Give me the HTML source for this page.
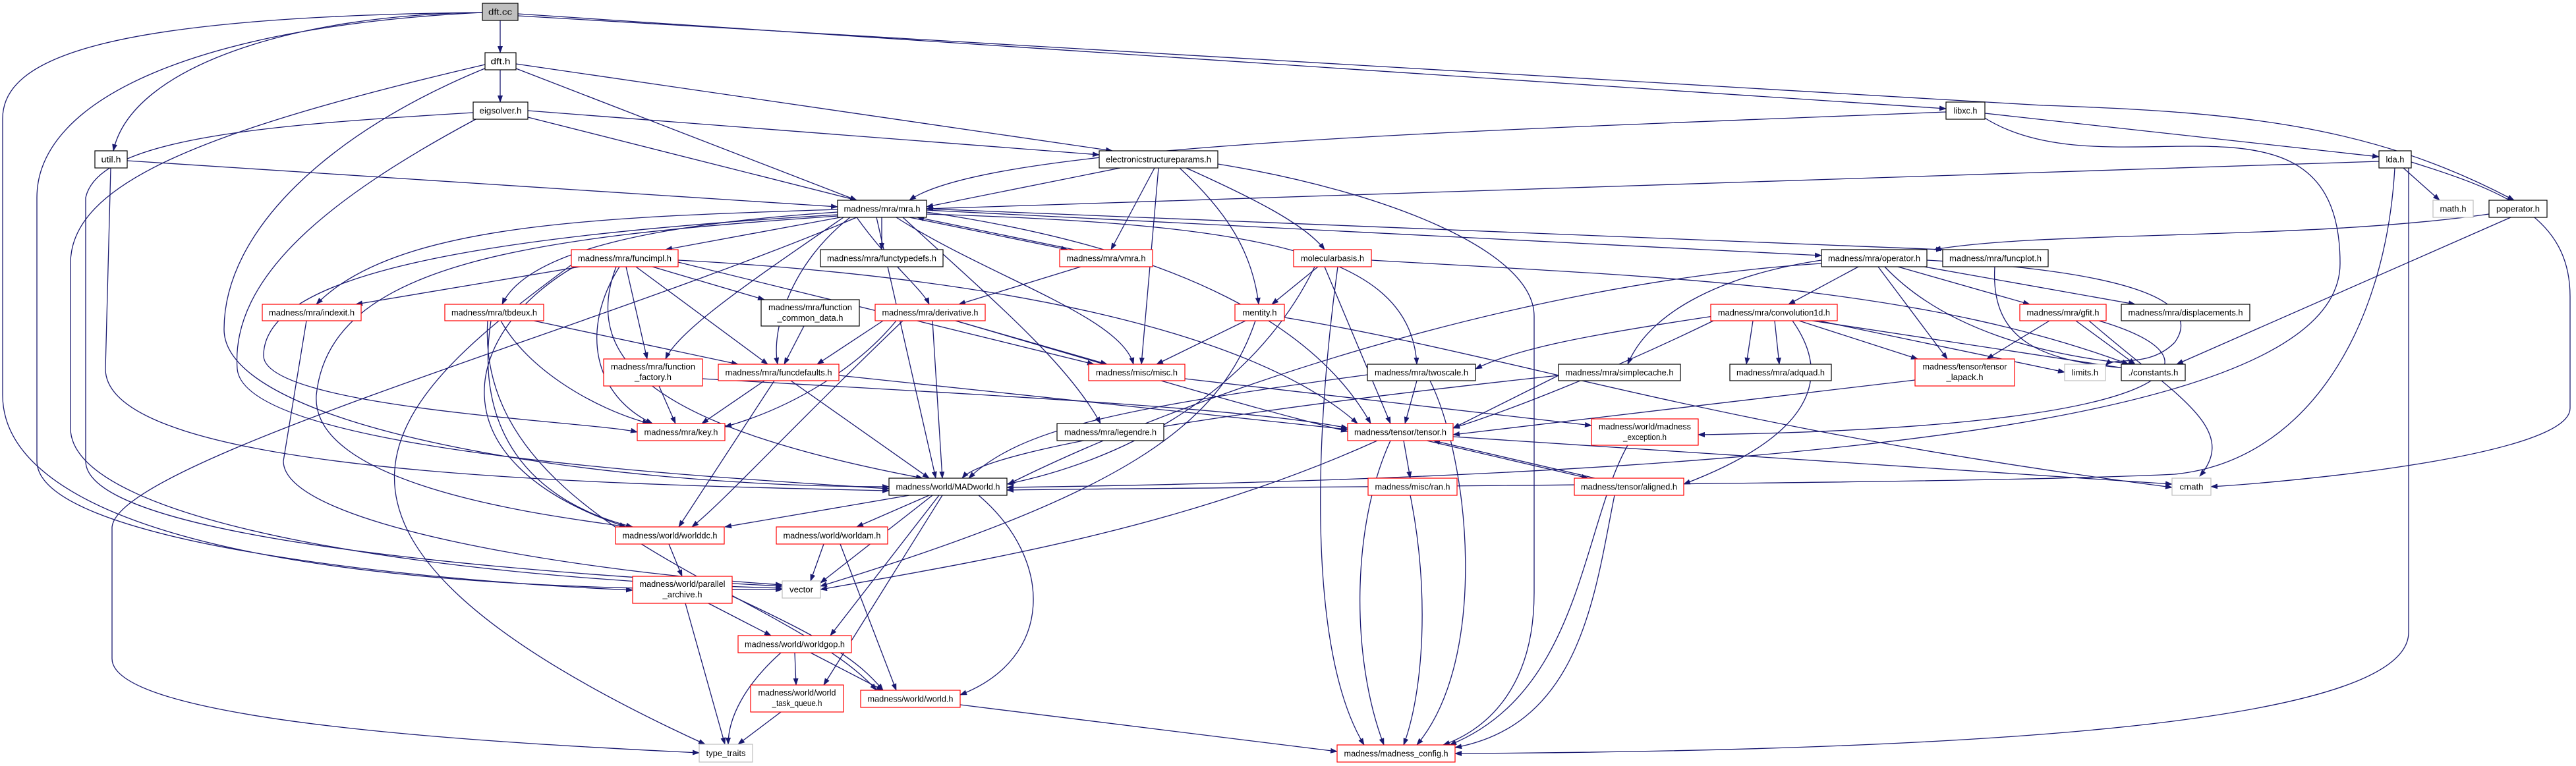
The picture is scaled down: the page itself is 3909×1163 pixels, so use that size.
<!DOCTYPE html>
<html><head><meta charset="utf-8"><style>
html,body{margin:0;padding:0;background:#fff;}
svg{display:block}
text{font-family:"Liberation Sans",sans-serif;font-size:13px;fill:#000}
.e{fill:none;stroke:#191970;stroke-width:1.3}
.b{fill:#fff;stroke:#000;stroke-width:1.2}
.r{fill:#fff;stroke:#ff0000;stroke-width:1.2}
.g{fill:#fff;stroke:#bfbfbf;stroke-width:1.2}
</style></head><body>
<svg width="3909" height="1163" viewBox="0 0 3909 1163" xmlns="http://www.w3.org/2000/svg">
<defs><marker id="a" markerWidth="11" markerHeight="8" refX="10" refY="4" orient="auto" markerUnits="userSpaceOnUse"><path d="M0,0 L11,4 L0,8 z" fill="#191970"/></marker></defs>
<g marker-end="url(#a)">
<path class="e" d="M759 31 L759 80"/>
<path class="e" d="M732 19 C450 22 200 100 172 229"/>
<path class="e" d="M732 19 C150 25 4 90 4 180 L4 600 C4 760 300 900 1187 895"/>
<path class="e" d="M732 19 C300 40 56 150 56 300 L56 700 C56 820 600 880 960 896"/>
<path class="e" d="M786 21 L2953 165"/>
<path class="e" d="M786 24 L3100 160 C3400 170 3600 190 3815 304"/>
<path class="e" d="M759 106 L759 155"/>
<path class="e" d="M783 104 L1300 304"/>
<path class="e" d="M783 97 L1688 229"/>
<path class="e" d="M738 103 C500 200 340 350 340 500 C340 650 900 739 1349 739"/>
<path class="e" d="M736 98 C300 200 107 280 107 400 L107 650 C107 800 700 880 1187 893"/>
<path class="e" d="M801 178 L1300 304"/>
<path class="e" d="M801 168 L1668 235"/>
<path class="e" d="M722 181 C500 300 350 420 360 560 C370 680 1000 720 1349 742"/>
<path class="e" d="M718 171 C400 190 150 210 130 300 L130 700 C130 820 800 870 1187 890"/>
<path class="e" d="M193 244 L1271 314"/>
<path class="e" d="M168 255 L160 560 C160 720 900 735 1349 745"/>
<path class="e" d="M1700 255 L1406 314"/>
<path class="e" d="M1752 255 L1686 379"/>
<path class="e" d="M1758 255 L1732 553"/>
<path class="e" d="M1790 255 C1860 320 1900 380 1910 462"/>
<path class="e" d="M1800 255 C1900 300 1980 340 2010 379"/>
<path class="e" d="M1848 249 C2100 290 2328 380 2328 480 L2328 900 C2328 1050 2250 1110 2190 1131"/>
<path class="e" d="M3012 172 L3610 238"/>
<path class="e" d="M2953 170 C2200 200 1500 220 1380 304"/>
<path class="e" d="M3010 178 C3200 300 3551 100 3551 400 C3551 600 3000 720 1528 740"/>
<path class="e" d="M3647 255 L3702 304"/>
<path class="e" d="M3659 246 C3800 290 3900 330 3900 450 L3900 620 C3900 690 3500 730 3355 739"/>
<path class="e" d="M3634 255 C3620 500 3500 700 3300 720 C3000 735 2000 738 1528 744"/>
<path class="e" d="M3655 255 L3655 960 C3655 1100 3000 1140 2208 1144"/>
<path class="e" d="M3610 245 L1406 317"/>
<path class="e" d="M3777 325 C3500 365 3100 350 2935 379"/>
<path class="e" d="M3810 330 L3303 553"/>
<path class="e" d="M1338 330 L1338 379"/>
<path class="e" d="M1380 330 L1620 379"/>
<path class="e" d="M1630 379 L1392 330"/>
<path class="e" d="M1275 330 L1010 379"/>
<path class="e" d="M1271 318 C900 330 600 340 480 462"/>
<path class="e" d="M1271 322 C1000 340 800 380 762 462"/>
<path class="e" d="M1300 330 C1350 400 1400 440 1410 462"/>
<path class="e" d="M1290 330 C1200 400 1170 500 1180 553"/>
<path class="e" d="M1280 330 C1150 420 1030 500 1010 545"/>
<path class="e" d="M1271 326 C700 360 400 420 400 540 C400 620 900 640 967 656"/>
<path class="e" d="M1330 330 L1420 726"/>
<path class="e" d="M1360 330 C1500 420 1700 480 1720 553"/>
<path class="e" d="M1406 322 C1800 380 2000 500 2080 643"/>
<path class="e" d="M1406 325 C1900 340 2140 380 2150 553"/>
<path class="e" d="M1370 330 C1500 450 1620 550 1670 643"/>
<path class="e" d="M1406 319 L2764 388"/>
<path class="e" d="M1406 317 L2948 379"/>
<path class="e" d="M1271 328 C800 360 500 400 480 600 C470 750 900 790 950 800"/>
<path class="e" d="M1300 330 C900 500 180 700 170 800 L170 1000 C170 1100 800 1130 1061 1143"/>
<path class="e" d="M990 405 L1160 455"/>
<path class="e" d="M880 405 L540 462"/>
<path class="e" d="M950 405 L982 545"/>
<path class="e" d="M965 405 L1165 553"/>
<path class="e" d="M940 405 C880 500 900 600 990 643"/>
<path class="e" d="M935 405 C880 550 1000 650 1400 726"/>
<path class="e" d="M1029 395 C1500 420 1900 500 2060 643"/>
<path class="e" d="M1029 398 L1660 553"/>
<path class="e" d="M880 400 C700 500 650 700 950 800"/>
<path class="e" d="M870 400 C600 600 350 800 1070 1130"/>
<path class="e" d="M810 487 L1120 553"/>
<path class="e" d="M760 487 C800 560 900 620 985 643"/>
<path class="e" d="M745 487 C720 650 800 760 960 800"/>
<path class="e" d="M740 487 C720 800 1200 900 1330 1048"/>
<path class="e" d="M465 487 L430 700 C430 800 900 870 1187 888"/>
<path class="e" d="M1220 495 L1190 553"/>
<path class="e" d="M1000 586 L1025 643"/>
<path class="e" d="M1066 575 C1500 600 1900 620 2045 650"/>
<path class="e" d="M1160 578 L1065 643"/>
<path class="e" d="M1175 578 L1030 800"/>
<path class="e" d="M1200 578 L1410 726"/>
<path class="e" d="M1273 570 L2045 652"/>
<path class="e" d="M1360 487 C1300 560 1200 620 1100 648"/>
<path class="e" d="M1370 487 C1200 650 1100 760 1050 800"/>
<path class="e" d="M1415 487 L1430 726"/>
<path class="e" d="M1450 487 C1700 560 1900 620 2045 655"/>
<path class="e" d="M1450 487 L1680 553"/>
<path class="e" d="M1340 487 L1240 553"/>
<path class="e" d="M1640 405 L1455 462"/>
<path class="e" d="M2000 405 L1930 462"/>
<path class="e" d="M2010 405 L2110 643"/>
<path class="e" d="M2030 405 C1990 700 1990 1000 2070 1131"/>
<path class="e" d="M1995 405 C1900 600 1700 700 1528 735"/>
<path class="e" d="M2081 395 C2500 420 2900 430 3230 553"/>
<path class="e" d="M1890 487 L1755 553"/>
<path class="e" d="M1949 482 C2300 540 2600 650 3296 740"/>
<path class="e" d="M1905 487 C1850 650 1700 750 1245 890"/>
<path class="e" d="M1798 575 L2415 646"/>
<path class="e" d="M2150 578 L2132 643"/>
<path class="e" d="M2075 569 C1700 620 1550 650 1470 726"/>
<path class="e" d="M2170 578 C2230 700 2260 1000 2150 1131"/>
<path class="e" d="M2365 570 L2205 650"/>
<path class="e" d="M2365 570 C1900 620 1500 680 1460 726"/>
<path class="e" d="M2130 669 L2140 726"/>
<path class="e" d="M2165 669 L2410 726"/>
<path class="e" d="M2420 726 L2175 669"/>
<path class="e" d="M2110 669 C2050 800 2050 1000 2100 1131"/>
<path class="e" d="M2090 669 C1800 800 1500 850 1245 895"/>
<path class="e" d="M2205 663 L3296 735"/>
<path class="e" d="M2140 752 C2170 900 2160 1050 2130 1131"/>
<path class="e" d="M2450 752 C2420 900 2400 1100 2208 1135"/>
<path class="e" d="M2470 676 C2400 800 2400 1050 2200 1131"/>
<path class="e" d="M1380 752 L1100 800"/>
<path class="e" d="M1410 752 L1300 800"/>
<path class="e" d="M1415 752 L1245 885"/>
<path class="e" d="M1425 752 L1260 965"/>
<path class="e" d="M1430 752 L1250 1040"/>
<path class="e" d="M1485 752 C1600 850 1600 1000 1457 1055"/>
<path class="e" d="M1015 826 L1035 875"/>
<path class="e" d="M1250 826 L1230 882"/>
<path class="e" d="M1275 826 L1360 1048"/>
<path class="e" d="M1075 916 L1170 965"/>
<path class="e" d="M1040 916 L1100 1130"/>
<path class="e" d="M1111 905 C1250 970 1300 1000 1340 1048"/>
<path class="e" d="M1206 991 L1208 1040"/>
<path class="e" d="M1185 991 C1130 1040 1105 1090 1105 1130"/>
<path class="e" d="M1230 991 L1340 1048"/>
<path class="e" d="M1185 1081 L1120 1130"/>
<path class="e" d="M1457 1070 L2029 1141"/>
<path class="e" d="M2820 405 L2714 462"/>
<path class="e" d="M2880 405 L3080 462"/>
<path class="e" d="M2920 405 L3240 462"/>
<path class="e" d="M2850 405 L2955 545"/>
<path class="e" d="M2860 405 C2950 500 3100 540 3240 553"/>
<path class="e" d="M2924 395 C3200 410 3350 450 3300 520 C3260 560 3210 540 3195 555"/>
<path class="e" d="M2764 395 C2600 420 2500 480 2470 553"/>
<path class="e" d="M2660 487 L2650 553"/>
<path class="e" d="M2693 487 L2700 553"/>
<path class="e" d="M2764 400 C2300 430 1800 600 1530 735"/>
<path class="e" d="M2600 480 C2400 510 2300 530 2239 560"/>
<path class="e" d="M2730 487 L2910 545"/>
<path class="e" d="M2750 487 L3230 560"/>
<path class="e" d="M2760 487 L3133 565"/>
<path class="e" d="M2720 487 C2800 600 2700 680 2555 735"/>
<path class="e" d="M2600 487 C2450 560 2300 620 2205 650"/>
<path class="e" d="M3110 487 L3015 545"/>
<path class="e" d="M3150 487 L3240 553"/>
<path class="e" d="M3170 487 C3300 600 3400 650 3338 723"/>
<path class="e" d="M3185 487 C3400 550 3300 650 2577 660"/>
<path class="e" d="M2906 577 L2205 660"/>
<path class="e" d="M3027 405 C3020 520 3100 550 3240 560"/>
</g>
<g>
<rect x="732" y="5" width="54" height="26" fill="#bfbfbf" stroke="#000" stroke-width="1.2"/><text x="759" y="22.5" text-anchor="middle" textLength="36" lengthAdjust="spacingAndGlyphs">dft.cc</text>
<rect class="b" x="736" y="80" width="47" height="26"/><text x="759.5" y="97.5" text-anchor="middle" textLength="30" lengthAdjust="spacingAndGlyphs">dft.h</text>
<rect class="b" x="718" y="155" width="83" height="26"/><text x="759.5" y="172.5" text-anchor="middle" textLength="64" lengthAdjust="spacingAndGlyphs">eigsolver.h</text>
<rect class="b" x="144" y="229" width="49" height="26"/><text x="168.5" y="246.5" text-anchor="middle" textLength="30" lengthAdjust="spacingAndGlyphs">util.h</text>
<rect class="b" x="1668" y="229" width="180" height="26"/><text x="1758" y="246.5" text-anchor="middle" textLength="160" lengthAdjust="spacingAndGlyphs">electronicstructureparams.h</text>
<rect class="b" x="2953" y="155" width="59" height="26"/><text x="2982.5" y="172.5" text-anchor="middle" textLength="36" lengthAdjust="spacingAndGlyphs">libxc.h</text>
<rect class="b" x="3610" y="229" width="49" height="26"/><text x="3634.5" y="246.5" text-anchor="middle" textLength="28" lengthAdjust="spacingAndGlyphs">lda.h</text>
<rect class="b" x="1271" y="304" width="135" height="26"/><text x="1338.5" y="321.5" text-anchor="middle" textLength="116" lengthAdjust="spacingAndGlyphs">madness/mra/mra.h</text>
<rect class="g" x="3692" y="304" width="61" height="26"/><text x="3722.5" y="321.5" text-anchor="middle" textLength="40" lengthAdjust="spacingAndGlyphs">math.h</text>
<rect class="b" x="3777" y="304" width="88" height="26"/><text x="3821" y="321.5" text-anchor="middle" textLength="66" lengthAdjust="spacingAndGlyphs">poperator.h</text>
<rect class="r" x="867" y="379" width="162" height="26"/><text x="948" y="396.5" text-anchor="middle" textLength="142" lengthAdjust="spacingAndGlyphs">madness/mra/funcimpl.h</text>
<rect class="b" x="1245" y="379" width="186" height="26"/><text x="1338" y="396.5" text-anchor="middle" textLength="166" lengthAdjust="spacingAndGlyphs">madness/mra/functypedefs.h</text>
<rect class="r" x="1608" y="379" width="141" height="26"/><text x="1678.5" y="396.5" text-anchor="middle" textLength="120" lengthAdjust="spacingAndGlyphs">madness/mra/vmra.h</text>
<rect class="r" x="1963" y="379" width="118" height="26"/><text x="2022" y="396.5" text-anchor="middle" textLength="96" lengthAdjust="spacingAndGlyphs">molecularbasis.h</text>
<rect class="b" x="2764" y="379" width="160" height="26"/><text x="2844" y="396.5" text-anchor="middle" textLength="140" lengthAdjust="spacingAndGlyphs">madness/mra/operator.h</text>
<rect class="b" x="2948" y="379" width="160" height="26"/><text x="3028" y="396.5" text-anchor="middle" textLength="140" lengthAdjust="spacingAndGlyphs">madness/mra/funcplot.h</text>
<rect class="r" x="398" y="462" width="150" height="25"/><text x="473" y="479" text-anchor="middle" textLength="130" lengthAdjust="spacingAndGlyphs">madness/mra/indexit.h</text>
<rect class="r" x="675" y="462" width="150" height="25"/><text x="750" y="479" text-anchor="middle" textLength="130" lengthAdjust="spacingAndGlyphs">madness/mra/tbdeux.h</text>
<rect class="b" x="1155" y="455" width="149" height="40"/><text x="1229.5" y="471" text-anchor="middle" textLength="127" lengthAdjust="spacingAndGlyphs">madness/mra/function</text><text x="1229.5" y="487" text-anchor="middle" textLength="100" lengthAdjust="spacingAndGlyphs">_common_data.h</text>
<rect class="r" x="1328" y="462" width="167" height="25"/><text x="1411.5" y="479" text-anchor="middle" textLength="146" lengthAdjust="spacingAndGlyphs">madness/mra/derivative.h</text>
<rect class="r" x="1874" y="462" width="75" height="25"/><text x="1911.5" y="479" text-anchor="middle" textLength="52" lengthAdjust="spacingAndGlyphs">mentity.h</text>
<rect class="r" x="2596" y="462" width="192" height="25"/><text x="2692" y="479" text-anchor="middle" textLength="170" lengthAdjust="spacingAndGlyphs">madness/mra/convolution1d.h</text>
<rect class="r" x="3065" y="462" width="131" height="25"/><text x="3130.5" y="479" text-anchor="middle" textLength="110" lengthAdjust="spacingAndGlyphs">madness/mra/gfit.h</text>
<rect class="b" x="3219" y="462" width="195" height="25"/><text x="3316.5" y="479" text-anchor="middle" textLength="174" lengthAdjust="spacingAndGlyphs">madness/mra/displacements.h</text>
<rect class="r" x="916" y="545" width="150" height="41"/><text x="991" y="561" text-anchor="middle" textLength="128" lengthAdjust="spacingAndGlyphs">madness/mra/function</text><text x="991" y="577" text-anchor="middle" textLength="56" lengthAdjust="spacingAndGlyphs">_factory.h</text>
<rect class="r" x="1090" y="553" width="183" height="25"/><text x="1181.5" y="570" text-anchor="middle" textLength="162" lengthAdjust="spacingAndGlyphs">madness/mra/funcdefaults.h</text>
<rect class="r" x="1652" y="553" width="146" height="25"/><text x="1725" y="570" text-anchor="middle" textLength="124" lengthAdjust="spacingAndGlyphs">madness/misc/misc.h</text>
<rect class="b" x="2075" y="553" width="164" height="25"/><text x="2157" y="570" text-anchor="middle" textLength="142" lengthAdjust="spacingAndGlyphs">madness/mra/twoscale.h</text>
<rect class="b" x="2365" y="553" width="185" height="25"/><text x="2457.5" y="570" text-anchor="middle" textLength="164" lengthAdjust="spacingAndGlyphs">madness/mra/simplecache.h</text>
<rect class="b" x="2625" y="553" width="154" height="25"/><text x="2702" y="570" text-anchor="middle" textLength="134" lengthAdjust="spacingAndGlyphs">madness/mra/adquad.h</text>
<rect class="r" x="2906" y="545" width="151" height="41"/><text x="2981.5" y="561" text-anchor="middle" textLength="128" lengthAdjust="spacingAndGlyphs">madness/tensor/tensor</text><text x="2981.5" y="577" text-anchor="middle" textLength="56" lengthAdjust="spacingAndGlyphs">_lapack.h</text>
<rect class="g" x="3133" y="553" width="62" height="25"/><text x="3164" y="570" text-anchor="middle" textLength="40" lengthAdjust="spacingAndGlyphs">limits.h</text>
<rect class="b" x="3219" y="553" width="97" height="25"/><text x="3267.5" y="570" text-anchor="middle" textLength="76" lengthAdjust="spacingAndGlyphs">./constants.h</text>
<rect class="r" x="967" y="643" width="133" height="26"/><text x="1033.5" y="660.5" text-anchor="middle" textLength="112" lengthAdjust="spacingAndGlyphs">madness/mra/key.h</text>
<rect class="b" x="1604" y="643" width="162" height="26"/><text x="1685" y="660.5" text-anchor="middle" textLength="140" lengthAdjust="spacingAndGlyphs">madness/mra/legendre.h</text>
<rect class="r" x="2045" y="643" width="160" height="26"/><text x="2125" y="660.5" text-anchor="middle" textLength="140" lengthAdjust="spacingAndGlyphs">madness/tensor/tensor.h</text>
<rect class="r" x="2415" y="636" width="162" height="40"/><text x="2496" y="652" text-anchor="middle" textLength="140" lengthAdjust="spacingAndGlyphs">madness/world/madness</text><text x="2496" y="668" text-anchor="middle" textLength="66" lengthAdjust="spacingAndGlyphs">_exception.h</text>
<rect class="b" x="1349" y="726" width="179" height="26"/><text x="1438.5" y="743.5" text-anchor="middle" textLength="158" lengthAdjust="spacingAndGlyphs">madness/world/MADworld.h</text>
<rect class="r" x="2076" y="726" width="135" height="26"/><text x="2143.5" y="743.5" text-anchor="middle" textLength="114" lengthAdjust="spacingAndGlyphs">madness/misc/ran.h</text>
<rect class="r" x="2389" y="726" width="166" height="26"/><text x="2472" y="743.5" text-anchor="middle" textLength="146" lengthAdjust="spacingAndGlyphs">madness/tensor/aligned.h</text>
<rect class="g" x="3296" y="726" width="59" height="26"/><text x="3325.5" y="743.5" text-anchor="middle" textLength="36" lengthAdjust="spacingAndGlyphs">cmath</text>
<rect class="r" x="934" y="800" width="165" height="26"/><text x="1016.5" y="817.5" text-anchor="middle" textLength="144" lengthAdjust="spacingAndGlyphs">madness/world/worlddc.h</text>
<rect class="r" x="1178" y="800" width="169" height="26"/><text x="1262.5" y="817.5" text-anchor="middle" textLength="148" lengthAdjust="spacingAndGlyphs">madness/world/worldam.h</text>
<rect class="g" x="1187" y="882" width="58" height="26"/><text x="1216" y="899.5" text-anchor="middle" textLength="36" lengthAdjust="spacingAndGlyphs">vector</text>
<rect class="r" x="960" y="875" width="151" height="41"/><text x="1035.5" y="891" text-anchor="middle" textLength="130" lengthAdjust="spacingAndGlyphs">madness/world/parallel</text><text x="1035.5" y="907" text-anchor="middle" textLength="60" lengthAdjust="spacingAndGlyphs">_archive.h</text>
<rect class="r" x="1120" y="965" width="172" height="26"/><text x="1206" y="982.5" text-anchor="middle" textLength="152" lengthAdjust="spacingAndGlyphs">madness/world/worldgop.h</text>
<rect class="r" x="1306" y="1048" width="151" height="26"/><text x="1381.5" y="1065.5" text-anchor="middle" textLength="130" lengthAdjust="spacingAndGlyphs">madness/world/world.h</text>
<rect class="r" x="1139" y="1040" width="141" height="41"/><text x="1209.5" y="1056" text-anchor="middle" textLength="118" lengthAdjust="spacingAndGlyphs">madness/world/world</text><text x="1209.5" y="1072" text-anchor="middle" textLength="76" lengthAdjust="spacingAndGlyphs">_task_queue.h</text>
<rect class="g" x="1061" y="1130" width="81" height="27"/><text x="1101.5" y="1148" text-anchor="middle" textLength="60" lengthAdjust="spacingAndGlyphs">type_traits</text>
<rect class="r" x="2029" y="1131" width="179" height="26"/><text x="2118.5" y="1148.5" text-anchor="middle" textLength="158" lengthAdjust="spacingAndGlyphs">madness/madness_config.h</text>
</g>
</svg>
</body></html>
